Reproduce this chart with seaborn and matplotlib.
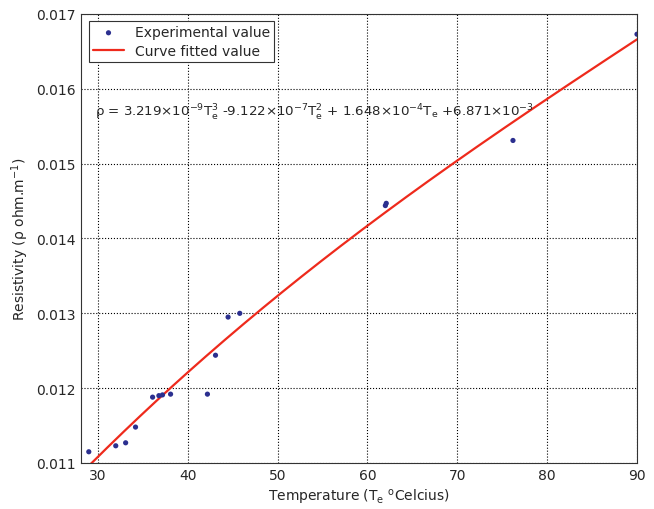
import numpy as np
import pandas as pd
import seaborn as sns
import matplotlib.pyplot as plt

# Experimental points
temperature = [29.0, 32.0, 33.1, 34.2, 36.1, 36.8, 37.2, 38.1, 42.2, 43.1, 44.5, 45.8,
               62.0, 62.1, 76.2, 90.0]
resistivity = [0.01115, 0.01123, 0.01127, 0.01148, 0.01188, 0.01190, 0.01191, 0.01192,
               0.01192, 0.01244, 0.01295, 0.01300, 0.01444, 0.01447, 0.01531, 0.01673]

# Fitted cubic coefficients (highest power first), as printed on the chart
fit_coeffs = [3.219e-9, -9.122e-7, 1.648e-4, 6.871e-3]
fit_range = [29.2, 90.0]

df_exp = pd.DataFrame({'T': temperature, 'rho': resistivity})
t_fit = np.linspace(fit_range[0], fit_range[1], 200)
df_fit = pd.DataFrame({'T': t_fit, 'rho': np.polyval(fit_coeffs, t_fit)})

sns.set_style('white')
plt.rcParams['font.family'] = ['DejaVu Sans']
plt.rcParams['mathtext.default'] = 'regular'

fig = plt.figure(figsize=(6.54, 5.10), dpi=100)
ax = fig.add_axes([0.1234, 0.0902, 0.8506, 0.8804])

sns.scatterplot(data=df_exp, x='T', y='rho', color='#2b2f8f', s=14, edgecolor='none',
                label='Experimental value', ax=ax, zorder=3)
sns.lineplot(data=df_fit, x='T', y='rho', color='#ee2a1c', linewidth=1.6,
             label='Curve fitted value', ax=ax, zorder=2)

ax.set_xlim(28.1, 90)
ax.set_ylim(0.011, 0.017)
ax.set_xticks([30, 40, 50, 60, 70, 80, 90])
ax.set_yticks([0.011, 0.012, 0.013, 0.014, 0.015, 0.016, 0.017])
ax.set_yticklabels(['0.011', '0.012', '0.013', '0.014', '0.015', '0.016', '0.017'])
ax.tick_params(direction='in', length=3, labelsize=10, color='#333333')
ax.grid(True, linestyle=':', color='black', linewidth=0.8)
for s in ax.spines.values():
    s.set_color('#333333')
    s.set_linewidth(0.8)

ax.set_xlabel(r'Temperature (T$_e$ $^{o}$Celcius)', fontsize=10)
ax.set_ylabel(r'Resistivity ($\rho$ ohm.m$^{-1}$)', fontsize=10)

eq = (r'$\rho$ = 3.219$\times$10$^{-9}$T$_e^3$ -9.122$\times$10$^{-7}$T$_e^2$ + '
      r'1.648$\times$10$^{-4}$T$_e$ +6.871$\times$10$^{-3}$')
ax.text(29.7, 0.01569, eq, fontsize=9.6, va='center', ha='left')

leg = ax.legend(loc='upper left', bbox_to_anchor=(0.01, 0.99), fontsize=10,
                fancybox=False, framealpha=1, edgecolor='#333333',
                borderaxespad=0.2, handlelength=2.2, borderpad=0.3, labelspacing=0.3)
leg.get_frame().set_linewidth(0.8)

fig.savefig('out.png', dpi=100)
